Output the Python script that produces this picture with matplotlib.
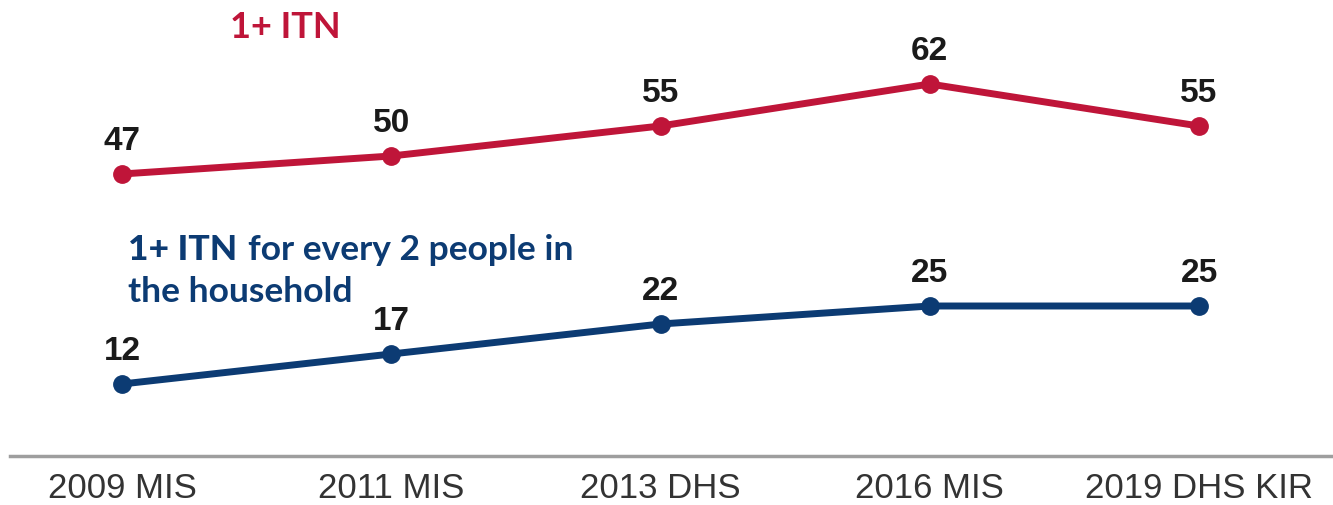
import matplotlib
matplotlib.use("Agg")
import matplotlib.pyplot as plt

categories = ["2009 MIS", "2011 MIS", "2013 DHS", "2016 MIS", "2019 DHS KIR"]
itn_any = [47, 50, 55, 62, 55]
itn_per2 = [12, 17, 22, 25, 25]

red = "#BF1539"
blue = "#0C3B73"

fig = plt.figure(figsize=(13.33, 5.06), dpi=100)
ax = fig.add_axes([10/1333, 49/506, 1323/1333, 457/506])
x = list(range(len(categories)))

ax.plot(x, itn_any, color=red, lw=5, marker="o", ms=12.5, solid_capstyle="round")
ax.plot(x, itn_per2, color=blue, lw=5, marker="o", ms=12.5, solid_capstyle="round")

for series in (itn_any, itn_per2):
    for xi, v in zip(x, series):
        ax.annotate(str(v), (xi, v), xytext=(0, 24), textcoords="offset points",
                    ha="center", va="center", fontsize=24, fontweight="bold",
                    family="Liberation Sans", color="#1a1a1a")

ax.set_xlim(-112/269.25, 4 + 134/269.25)
ax.set_ylim(0, 457/6)

for s in ["top", "right", "left"]:
    ax.spines[s].set_visible(False)
ax.spines["bottom"].set_color("#9e9e9e")
ax.spines["bottom"].set_linewidth(2.5)
ax.set_yticks([])
ax.set_xticks(x)
ax.set_xticklabels(categories, fontsize=25, family="Liberation Sans", color="#333333")
ax.tick_params(axis="x", length=0, pad=11)

fig.text(230/1333, 1 - 28/506, "1+ ITN", color=red, fontsize=26, fontweight="bold",
         family="Lato", va="center", ha="left")
t1 = fig.text(128/1333, 1 - 250/506, "1+ ITN", color=blue, fontsize=25.5, fontweight="black",
              family="Lato", va="center", ha="left")
fig.canvas.draw()
r = fig.canvas.get_renderer()
bb = t1.get_window_extent(r)
fig.text((bb.x1 + 11)/1333, 1 - 250/506, "for every 2 people in", color=blue, fontsize=25.5,
         fontweight="bold", family="Lato", va="center", ha="left")
fig.text(128/1333, 1 - 292/506, "the household", color=blue, fontsize=25.5,
         fontweight="bold", family="Lato", va="center", ha="left")

fig.savefig("out.png", dpi=100)
